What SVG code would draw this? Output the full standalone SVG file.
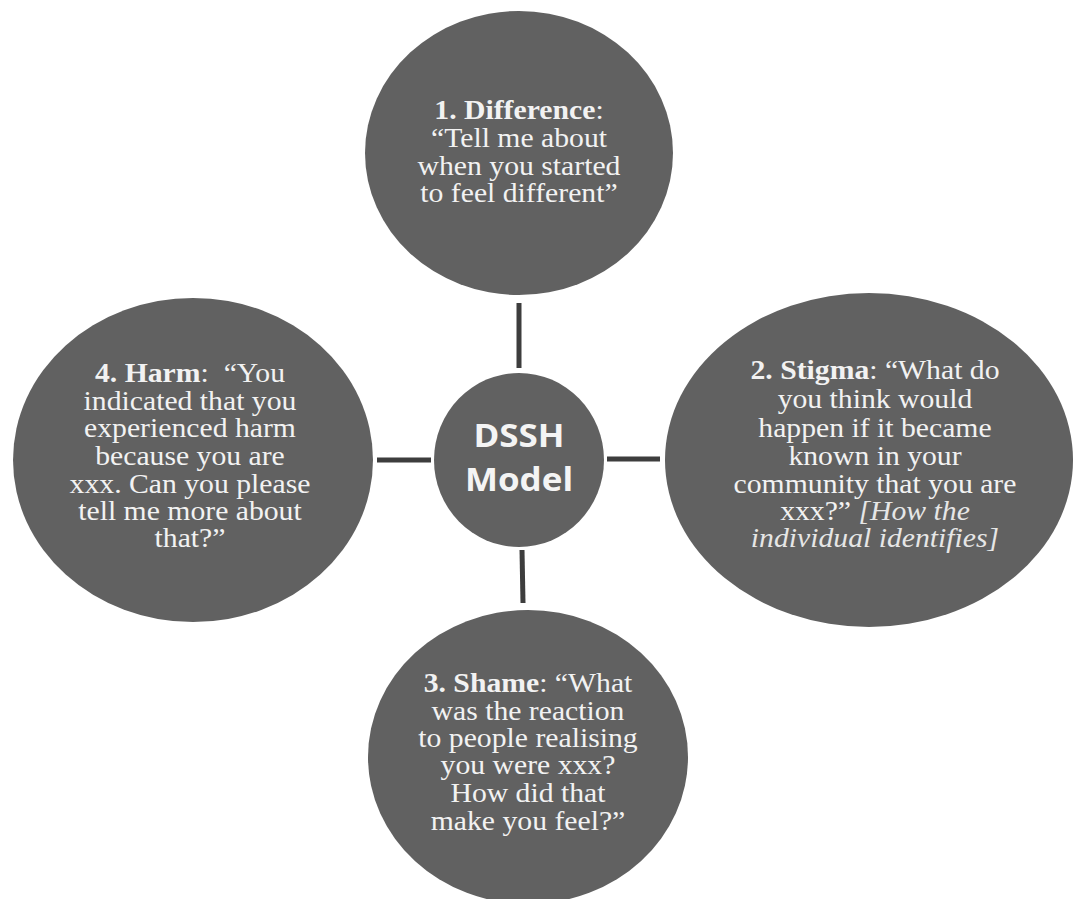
<svg xmlns="http://www.w3.org/2000/svg" width="1075" height="899" viewBox="0 0 1075 899">
<style>
.node{fill:#616161;}
.t{font-family:"Liberation Serif","Times New Roman",serif;font-size:27px;fill:#f2f2f2;text-anchor:middle;}
.b{font-weight:bold;}
.i{font-style:italic;fill:#e6e6e6;}
.c{font-family:"Open Sans","Liberation Sans",sans-serif;font-size:33px;font-weight:bold;fill:#f4f4f4;text-anchor:middle;}
.conn{stroke:#3d3d3d;stroke-width:5;fill:none;}
</style>
<rect width="1075" height="899" fill="#ffffff"/>
<g id="connectors">
<line class="conn" x1="519" y1="303" x2="519" y2="368"/>
<line class="conn" x1="377" y1="460" x2="431" y2="460"/>
<line class="conn" x1="607" y1="459" x2="660" y2="459"/>
<line class="conn" x1="522" y1="550" x2="523" y2="603"/>
</g>
<g id="node-difference">
<ellipse class="node" cx="519" cy="153" rx="154" ry="142"/>
<g transform="matrix(1.1 0 0 1 -51.9 0)">
<text class="t" x="519" y="119"><tspan class="b">1. Difference</tspan>:</text>
<text class="t" x="519" y="147">“Tell me about</text>
<text class="t" x="519" y="175">when you started</text>
<text class="t" x="519" y="202">to feel different”</text>
</g>
</g>
<g id="node-stigma">
<ellipse class="node" cx="869" cy="460" rx="204" ry="167"/>
<g transform="matrix(1.1 0 0 1 -87.5 0)">
<text class="t" x="875" y="379"><tspan class="b">2. Stigma</tspan>: “What do</text>
<text class="t" x="875" y="408">you think would</text>
<text class="t" x="875" y="437">happen if it became</text>
<text class="t" x="875" y="465">known in your</text>
<text class="t" x="875" y="493">community that you are</text>
<text class="t" x="875" y="520">xxx?” <tspan class="i">[How the</tspan></text>
<text class="t i" x="875" y="547">individual identifies]</text>
</g>
</g>
<g id="node-shame">
<ellipse class="node" cx="528" cy="757" rx="160" ry="147"/>
<g transform="matrix(1.1 0 0 1 -52.8 0)">
<text class="t" x="528" y="692"><tspan class="b">3. Shame</tspan>: “What</text>
<text class="t" x="528" y="720">was the reaction</text>
<text class="t" x="528" y="747">to people realising</text>
<text class="t" x="528" y="774">you were xxx?</text>
<text class="t" x="528" y="802">How did that</text>
<text class="t" x="528" y="830">make you feel?”</text>
</g>
</g>
<g id="node-harm">
<ellipse class="node" cx="193" cy="460" rx="180" ry="162"/>
<g transform="matrix(1.1 0 0 1 -19 0)">
<text class="t" x="190" y="382"><tspan class="b">4. Harm</tspan>:&#160; “You</text>
<text class="t" x="190" y="410">indicated that you</text>
<text class="t" x="190" y="437">experienced harm</text>
<text class="t" x="190" y="465">because you are</text>
<text class="t" x="190" y="493">xxx. Can you please</text>
<text class="t" x="190" y="520">tell me more about</text>
<text class="t" x="190" y="547">that?”</text>
</g>
</g>
<g id="node-center">
<ellipse class="node" cx="519" cy="460" rx="85" ry="87"/>
<g transform="matrix(1.06 0 0 1 -31.1 0)">
<text class="c" x="519" y="447">DSSH</text>
<text class="c" x="519" y="491">Model</text>
</g>
</g>
</svg>
